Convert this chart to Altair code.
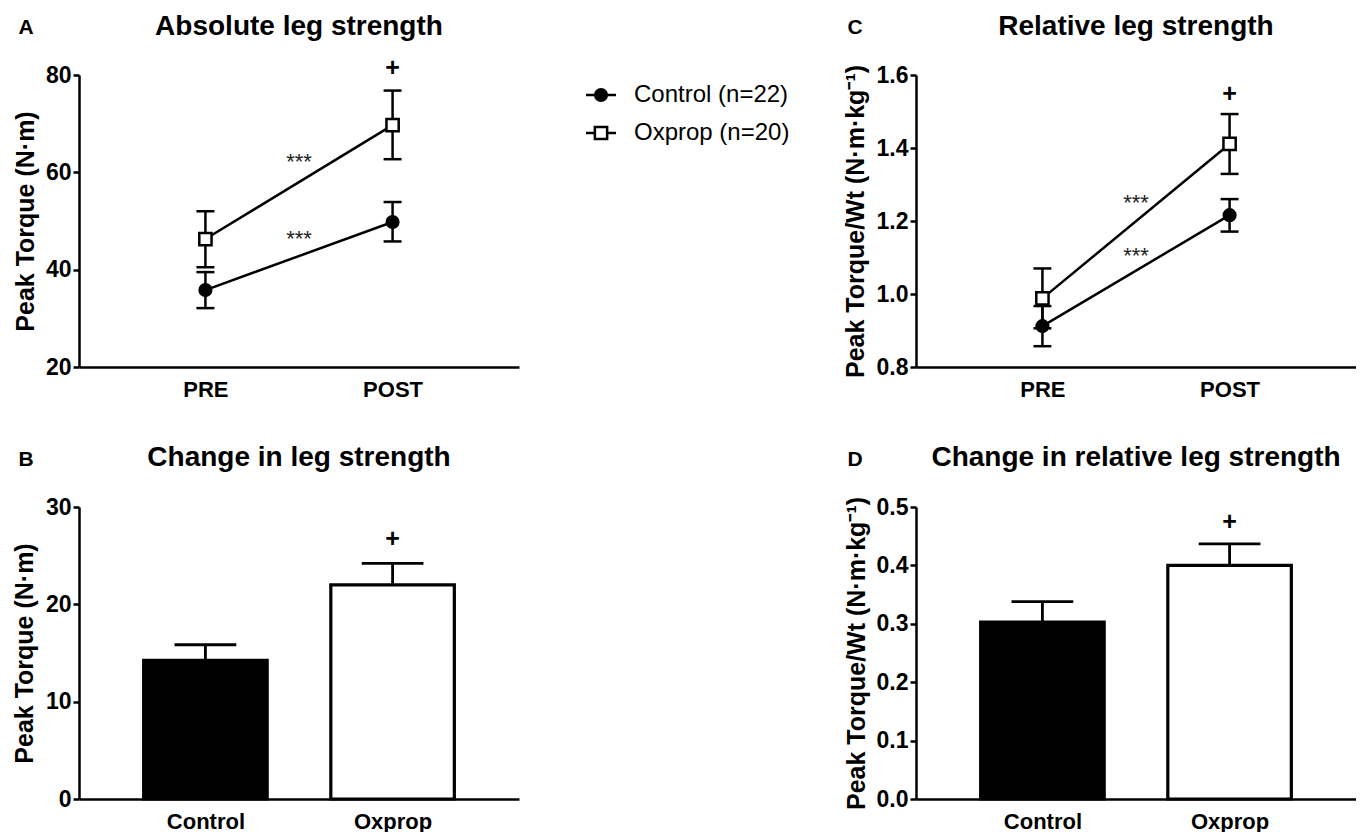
import json
import pandas as pd
import altair as alt

FONT = "Liberation Sans"

# ---------------- data ----------------
time_points = ["PRE", "POST"]
groups = ["Control", "Oxprop"]
legend_labels = ["Control (n=22)", "Oxprop (n=20)"]

# Panel A: absolute leg strength (mean, lower / upper error)
abs_control_mean = [35.8, 49.8]
abs_control_lo = [32.1, 45.8]
abs_control_hi = [39.5, 53.9]
abs_oxprop_mean = [46.3, 69.7]
abs_oxprop_lo = [40.5, 62.7]
abs_oxprop_hi = [52.0, 76.8]
abs_star_y = [62.1, 46.3]
abs_plus_y = 81.4

# Panel C: relative leg strength
rel_control_mean = [0.912, 1.216]
rel_control_lo = [0.857, 1.171]
rel_control_hi = [0.967, 1.260]
rel_oxprop_mean = [0.988, 1.411]
rel_oxprop_lo = [0.906, 1.329]
rel_oxprop_hi = [1.070, 1.493]
rel_star_y = [1.248, 1.105]
rel_plus_y = 1.547

# Panel B: change in leg strength
chg_abs_mean = [14.25, 22.0]
chg_abs_hi = [15.85, 24.2]
chg_abs_plus_y = 26.7

# Panel D: change in relative leg strength
chg_rel_mean = [0.303, 0.400]
chg_rel_hi = [0.338, 0.437]
chg_rel_plus_y = 0.474

# ---------------- layout constants ----------------
W, H = 440, 292
X_PAD = 0.6755
CAP = 0.048
BAR_HALF = 0.33
BAR_CAP = 0.165
LW = 2.5


def x_scale():
    return alt.Scale(domain=[-X_PAD, 1 + X_PAD], nice=False, zero=False)


def x_axis(labels):
    return alt.Axis(values=[0, 1], labelExpr=f"{json.dumps(labels)}[datum.value]",
                    ticks=False, title=None, grid=False, labelPadding=12,
                    labelFlush=False, labelFontSize=22)


def y_axis(ticks, fmt, title, tx):
    return alt.Axis(values=ticks, format=fmt, title=title, titleX=tx, titleY=H / 2,
                    titleAngle=270, titleBaseline="middle", titleAlign="center",
                    labelPadding=2, grid=False)


def text_layer(txt, x, y, size, weight="bold", align="center", color="black"):
    return alt.Chart(pd.DataFrame({"t": [txt]})).mark_text(
        font=FONT, fontSize=size, fontWeight=weight, align=align,
        baseline="middle", color=color).encode(
        text="t:N", x=alt.value(x), y=alt.value(y))


def line_panel(ctrl, oxp, ydom, yticks, fmt, ytitle, tx, stars, plus_y,
               title, letter, letter_x, legend=False):
    rows = []
    for g, (m, lo, hi) in zip(groups, [ctrl, oxp]):
        for i in range(len(time_points)):
            rows.append({"group": g, "idx": i, "mean": m[i], "lo": lo[i], "hi": hi[i],
                         "cl": i - CAP, "cr": i + CAP})
    df = pd.DataFrame(rows)
    xs = x_scale()
    xa = x_axis(time_points)
    ys = alt.Scale(domain=ydom, nice=False, zero=False)
    ya = y_axis(yticks, fmt, ytitle, tx)
    base = alt.Chart(df)
    line = base.mark_line(color="black", strokeWidth=LW).encode(
        x=alt.X("idx:Q", scale=xs, axis=xa),
        y=alt.Y("mean:Q", scale=ys, axis=ya),
        detail="group:N")
    err = base.mark_rule(color="black", strokeWidth=LW).encode(
        x=alt.X("idx:Q", scale=xs, axis=xa),
        y=alt.Y("lo:Q", scale=ys, axis=ya), y2="hi:Q")
    cap_lo = base.mark_rule(color="black", strokeWidth=LW).encode(
        x=alt.X("cl:Q", scale=xs, axis=xa), x2="cr:Q",
        y=alt.Y("lo:Q", scale=ys, axis=ya))
    cap_hi = base.mark_rule(color="black", strokeWidth=LW).encode(
        x=alt.X("cl:Q", scale=xs, axis=xa), x2="cr:Q",
        y=alt.Y("hi:Q", scale=ys, axis=ya))
    pts = base.mark_point(filled=True, stroke="black", strokeWidth=2.5, opacity=1).encode(
        x=alt.X("idx:Q", scale=xs, axis=xa),
        y=alt.Y("mean:Q", scale=ys, axis=ya),
        shape=alt.Shape("group:N", scale=alt.Scale(domain=groups, range=["circle", "square"]), legend=None),
        fill=alt.Fill("group:N", scale=alt.Scale(domain=groups, range=["black", "white"]), legend=None),
        size=alt.Size("group:N", scale=alt.Scale(domain=groups, range=[135, 150]), legend=None))
    ann = pd.DataFrame({"idx": [0.5, 0.5, 1.0], "y": [stars[0], stars[1], plus_y],
                        "t": ["***", "***", "+"], "kind": ["s", "s", "p"]})
    star = alt.Chart(ann[ann.kind == "s"]).mark_text(
        font=FONT, fontSize=22, color="#222", baseline="middle").encode(
        x=alt.X("idx:Q", scale=xs, axis=xa), y=alt.Y("y:Q", scale=ys, axis=ya), text="t:N")
    plus = alt.Chart(ann[ann.kind == "p"]).mark_text(
        font=FONT, fontSize=25, fontWeight="bold", color="black", baseline="middle").encode(
        x=alt.X("idx:Q", scale=xs, axis=xa), y=alt.Y("y:Q", scale=ys, axis=ya), text="t:N")
    layers = [line, err, cap_lo, cap_hi, pts, star, plus,
              text_layer(title, W / 2, -48, 28),
              text_layer(letter, letter_x, -47, 21)]
    if legend:
        leg_y = [20, 58]
        for i, g in enumerate(groups):
            ldf = pd.DataFrame({"label": [legend_labels[i]], "group": [g]})
            layers.append(alt.Chart(ldf).mark_rule(color="black", strokeWidth=LW).encode(
                x=alt.value(507), x2=alt.value(537), y=alt.value(leg_y[i])))
            layers.append(alt.Chart(ldf).mark_point(
                filled=True, stroke="black", strokeWidth=2.5, opacity=1,
                shape=["circle", "square"][i], fill=["black", "white"][i],
                size=[135, 150][i]).encode(x=alt.value(522), y=alt.value(leg_y[i])))
            layers.append(alt.Chart(ldf).mark_text(
                font=FONT, fontSize=24, align="left", baseline="middle", color="black").encode(
                text="label:N", x=alt.value(555), y=alt.value(leg_y[i])))
    return alt.layer(*layers).properties(width=W, height=H)


def bar_panel(means, his, ydom, yticks, fmt, ytitle, tx, plus_y, title, letter, letter_x):
    df = pd.DataFrame({"group": groups, "idx": [0, 1], "mean": means, "hi": his})
    df["xl"] = df["idx"] - BAR_HALF
    df["xr"] = df["idx"] + BAR_HALF
    df["cl"] = df["idx"] - BAR_CAP
    df["cr"] = df["idx"] + BAR_CAP
    xs = x_scale()
    xa = x_axis(groups)
    ys = alt.Scale(domain=ydom, nice=False, zero=False)
    ya = y_axis(yticks, fmt, ytitle, tx)
    base = alt.Chart(df)
    err = base.mark_rule(color="black", strokeWidth=2.8).encode(
        x=alt.X("idx:Q", scale=xs, axis=xa),
        y=alt.Y("mean:Q", scale=ys, axis=ya), y2="hi:Q")
    cap = base.mark_rule(color="black", strokeWidth=2.8).encode(
        x=alt.X("cl:Q", scale=xs, axis=xa), x2="cr:Q",
        y=alt.Y("hi:Q", scale=ys, axis=ya))
    bars = base.mark_rect(stroke="black", strokeWidth=3.2).encode(
        x=alt.X("xl:Q", scale=xs, axis=xa), x2="xr:Q",
        y=alt.Y("mean:Q", scale=ys, axis=ya), y2=alt.datum(0),
        fill=alt.Fill("group:N", scale=alt.Scale(domain=groups, range=["black", "white"]), legend=None))
    ann = pd.DataFrame({"idx": [1.0], "y": [plus_y], "t": ["+"]})
    plus = alt.Chart(ann).mark_text(
        font=FONT, fontSize=25, fontWeight="bold", color="black", baseline="middle").encode(
        x=alt.X("idx:Q", scale=xs, axis=xa), y=alt.Y("y:Q", scale=ys, axis=ya), text="t:N")
    layers = [err, cap, bars, plus,
              text_layer(title, W / 2, -49, 28),
              text_layer(letter, letter_x, -47, 21)]
    return alt.layer(*layers).properties(width=W, height=H)


panel_a = line_panel((abs_control_mean, abs_control_lo, abs_control_hi),
                     (abs_oxprop_mean, abs_oxprop_lo, abs_oxprop_hi),
                     [20, 80], [20, 40, 60, 80], "d", "Peak Torque (N·m)", -54,
                     abs_star_y, abs_plus_y, "Absolute leg strength", "A", -53, legend=True)
panel_c = line_panel((rel_control_mean, rel_control_lo, rel_control_hi),
                     (rel_oxprop_mean, rel_oxprop_lo, rel_oxprop_hi),
                     [0.8, 1.6], [0.8, 1.0, 1.2, 1.4, 1.6], ".1f",
                     "Peak Torque/Wt (N·m·kg⁻¹)", -61,
                     rel_star_y, rel_plus_y, "Relative leg strength", "C", -61)
panel_b = bar_panel(chg_abs_mean, chg_abs_hi, [0, 30], [0, 10, 20, 30], "d",
                    "Peak Torque (N·m)", -55, chg_abs_plus_y,
                    "Change in leg strength", "B", -53)
panel_d = bar_panel(chg_rel_mean, chg_rel_hi, [0, 0.5], [0, 0.1, 0.2, 0.3, 0.4, 0.5], ".1f",
                    "Peak Torque/Wt (N·m·kg⁻¹)", -60, chg_rel_plus_y,
                    "Change in relative leg strength", "D", -61)

chart = alt.concat(
    panel_a, panel_c, panel_b, panel_d, columns=2,
    spacing=alt.RowColnumber(row=140, column=397), bounds="flush",
    padding={"left": 4, "top": 5, "right": 0, "bottom": 0},
).configure(font=FONT).configure_view(stroke=None).configure_axis(
    domainColor="black", domainWidth=2.5, tickColor="black", tickWidth=2.5, tickSize=6,
    labelColor="black", labelFont=FONT, labelFontWeight="bold", labelFontSize=23,
    titleFont=FONT, titleFontWeight="bold", titleFontSize=25, titleColor="black", grid=False)

chart.save("out.html", embed_options={"renderer": "svg", "actions": False})
